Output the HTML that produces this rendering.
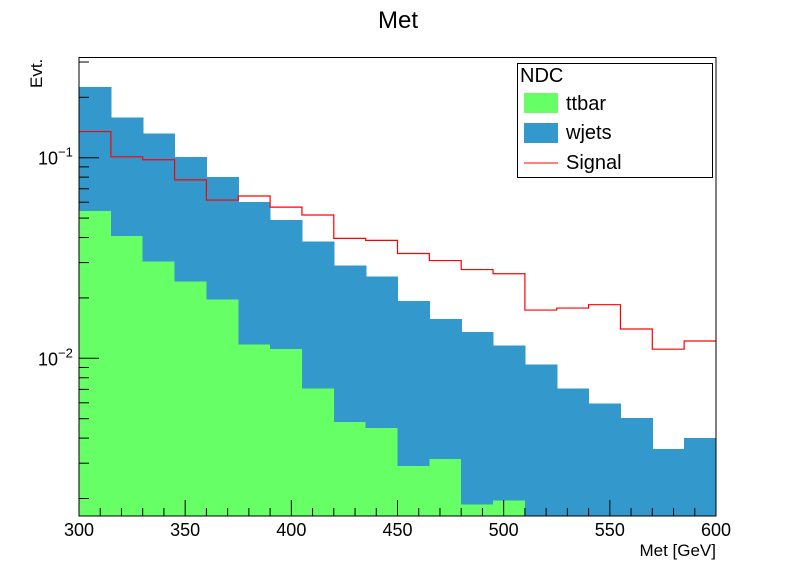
<!DOCTYPE html>
<html><head><meta charset="utf-8"><style>
body{margin:0;background:#fff;}
svg{display:block;font-family:"Liberation Sans",sans-serif;}
</style></head><body>
<svg id="c" width="796" height="574">
<rect width="796" height="574" fill="#fff"/>
<text x="398" y="28" font-size="24" text-anchor="middle">Met</text>
<g id="plot"></g>
<rect x="79" y="57.5" width="637" height="458.5" fill="none" stroke="#000" stroke-width="1"/>
<g id="axes"></g>
<text x="716" y="556" font-size="17" text-anchor="end">Met [GeV]</text>
<text transform="translate(42,88) rotate(-90)" font-size="17">Evt.</text>
<g>
<rect x="517.5" y="63.5" width="195" height="114" fill="#fff" stroke="#000"/>
<text x="520" y="82" font-size="20">NDC</text>
<rect x="524" y="93" width="34" height="20" fill="#66ff66"/>
<text x="566" y="110" font-size="20">ttbar</text>
<rect x="524" y="123" width="34" height="20" fill="#3399cc"/>
<text x="566" y="139" font-size="20">wjets</text>
<line x1="524" y1="163" x2="558" y2="163" stroke="#ff0000"/>
<text x="566" y="169" font-size="20">Signal</text>
</g>
</svg>
<script>
const binEdges=[300,315,330,345,360,375,390,405,420,435,450,465,480,495,510,525,540,555,570,585,600];
const ttbar=[0.0542,0.0406,0.0303,0.0241,0.0196,0.01175,0.0111,0.00706,0.00482,0.0045,0.0029,0.00314,0.00187,0.00195,0,0,0,0,0,0];
const total=[0.225,0.159,0.132,0.101,0.0803,0.0601,0.0488,0.0383,0.029,0.0255,0.0193,0.0157,0.0135,0.0116,0.00933,0.00706,0.00594,0.00505,0.00353,0.00401];
const wjets=total.map((t,i)=>t-ttbar[i]);
const signal=[0.135,0.101,0.0977,0.0775,0.0615,0.0644,0.0567,0.0518,0.0396,0.0387,0.0333,0.0307,0.0277,0.0264,0.0174,0.0178,0.0185,0.014,0.0111,0.0122];
const xTicks=[300,350,400,450,500,550,600];
const yMajor=[0.01,0.1];
const yMajorLabels=["2","1"];

const NS="http://www.w3.org/2000/svg";
const X0=79,X1=716,YB=516,YT=57.5;
const xMin=300,xMax=600;
const yDec=200.6, yRef=-1, yRefPx=157.7;
const ymin=Math.pow(10,yRef-(YB-yRefPx)/yDec);
function xs(v){return X0+(v-xMin)/(xMax-xMin)*(X1-X0);}
function ys(v){if(v<=ymin)return YB;const p=yRefPx-(Math.log10(v)-yRef)*yDec;return Math.max(YT,Math.min(YB,p));}
function mk(t,a,p){const e=document.createElementNS(NS,t);for(const k in a)e.setAttribute(k,a[k]);(p||plot).appendChild(e);return e;}
const plot=document.getElementById('plot');
const axes=document.getElementById('axes');

for(let i=0;i<total.length;i++){
  const x=xs(binEdges[i]),w=xs(binEdges[i+1])-x;
  const yt=ys(total[i]);
  const r=mk('rect',{x:x,y:yt,width:w+0.6,height:YB-yt,fill:'#3399cc','shape-rendering':'crispEdges'});
  
  
  const yg=ys(ttbar[i]);
  const g=mk('rect',{x:x,y:yg,width:w+0.6,height:YB-yg,fill:'#66ff66','shape-rendering':'crispEdges'});
  
  
}
let d='';
for(let i=0;i<signal.length;i++){
  const y=ys(signal[i]);
  d+=(i===0?'M':'L')+xs(binEdges[i])+','+y+'L'+xs(binEdges[i+1])+','+y;
}
const sp=mk('path',{d:d,fill:'none',stroke:'#ff0000','stroke-width':1.2});



for(let v=300;v<=600;v+=10){
  const major=(v%50===0);
  const x=xs(v);
  mk('line',{x1:x,y1:YB,x2:x,y2:YB-(major?16:8),stroke:'#000'},axes);
}
xTicks.forEach(v=>{
  const t=mk('text',{x:xs(v),y:536,'font-size':18,'text-anchor':'middle'},axes);
  t.textContent=v;
  
  
});
for(let e=-3;e<=0;e++){
  for(let m=1;m<=9;m++){
    const v=m*Math.pow(10,e);
    if(v<ymin||v>Math.pow(10,yRef+(yRefPx-YT)/yDec))continue;
    const y=ys(v);
    mk('line',{x1:X0,y1:y,x2:X0+(m===1?20:10),y2:y,stroke:'#000'},axes);
  }
}
yMajor.forEach((v,i)=>{
  const t=mk('text',{x:38,y:ys(v)+7,'font-size':18},axes);
  t.innerHTML='10<tspan dy="-8" font-size="13">\u2212'+yMajorLabels[i]+'</tspan>';
  
  
});
</script>
</body></html>
